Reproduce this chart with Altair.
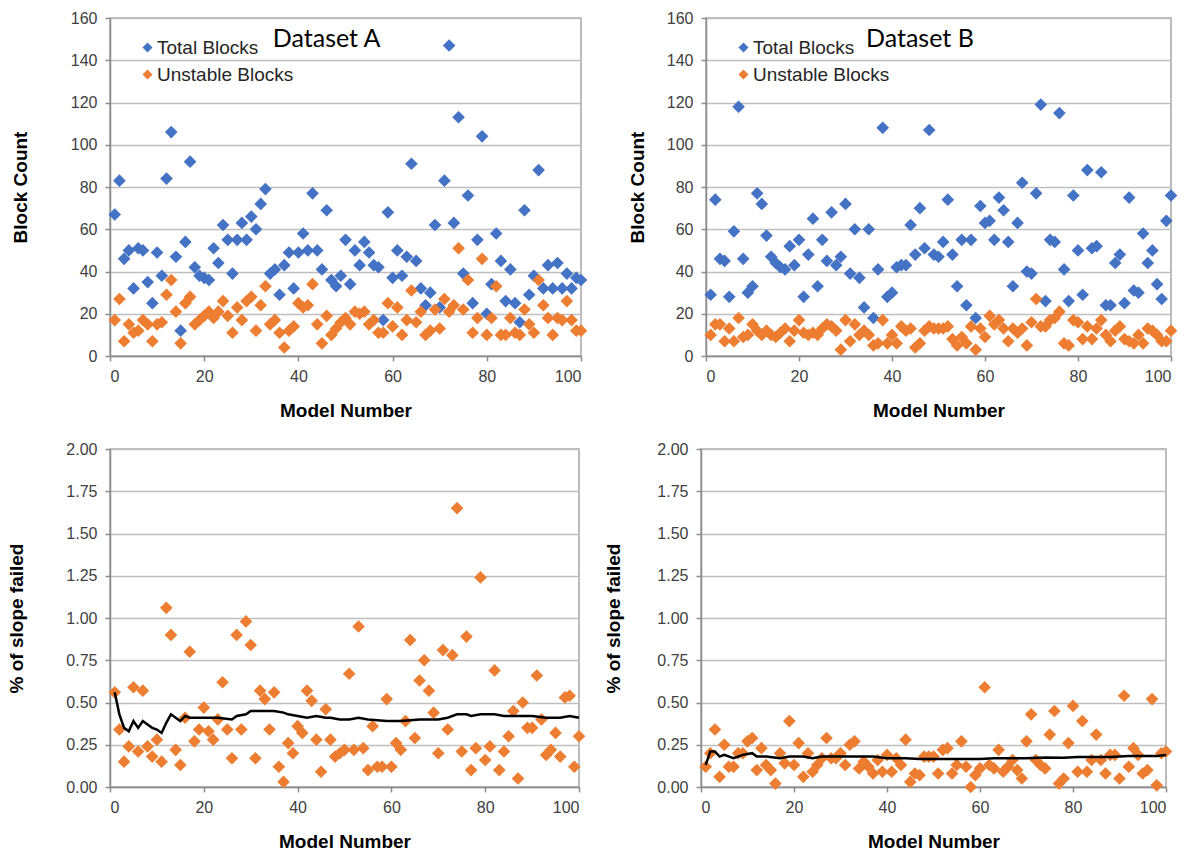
import altair as alt
import pandas as pd

models = list(range(1, 101))

total_a = [67, 83, 46, 50, 32, 51, 50, 35, 25, 49,
           38, 84, 106, 47, 12, 54, 92, 42, 38, 37,
           36, 51, 44, 62, 55, 39, 55, 63, 55, 66,
           60, 72, 79, 39, 41, 29, 43, 49, 32, 49,
           58, 50, 77, 50, 41, 69, 36, 33, 38, 55,
           34, 50, 43, 54, 49, 43, 42, 17, 68, 37,
           50, 38, 47, 91, 45, 32, 24, 30, 62, 23,
           83, 147, 63, 113, 39, 76, 25, 55, 104, 20,
           34, 58, 45, 26, 41, 25, 16, 69, 29, 38,
           88, 32, 43, 32, 44, 32, 39, 32, 37, 36]
unstable_a = [17, 27, 7, 15, 11, 12, 17, 15, 7, 15,
              16, 29, 36, 21, 6, 25, 28, 15, 17, 19,
              21, 18, 21, 26, 19, 11, 23, 17, 26, 28,
              12, 24, 33, 15, 17, 11, 4, 12, 14, 25,
              23, 24, 34, 15, 6, 19, 10, 13, 16, 18,
              15, 21, 20, 21, 15, 17, 11, 11, 25, 14,
              23, 10, 17, 31, 16, 21, 10, 12, 22, 13,
              27, 21, 24, 51, 22, 36, 11, 18, 46, 10,
              18, 33, 10, 10, 18, 11, 10, 22, 15, 11,
              36, 24, 18, 10, 18, 17, 26, 17, 12, 12]
total_b = [29, 74, 46, 45, 28, 59, 118, 46, 30, 33,
           77, 72, 57, 47, 44, 42, 41, 52, 43, 55,
           28, 48, 65, 33, 55, 45, 68, 43, 47, 72,
           39, 60, 37, 23, 60, 18, 41, 108, 28, 30,
           42, 43, 43, 62, 48, 70, 51, 107, 48, 47,
           54, 74, 48, 33, 55, 24, 55, 18, 71, 63,
           64, 55, 75, 69, 54, 33, 63, 82, 40, 39,
           77, 119, 26, 55, 54, 115, 41, 26, 76, 50,
           29, 88, 51, 52, 87, 24, 24, 44, 48, 25,
           75, 31, 30, 58, 44, 50, 34, 27, 64, 76]
unstable_b = [10, 15, 15, 7, 13, 7, 18, 9, 10, 15,
              12, 10, 12, 10, 9, 11, 13, 7, 12, 17,
              11, 10, 11, 10, 13, 15, 14, 12, 3, 17,
              7, 15, 10, 12, 10, 5, 6, 17, 6, 10,
              6, 14, 12, 13, 4, 6, 12, 14, 13, 13,
              13, 14, 8, 5, 9, 6, 14, 3, 13, 9,
              19, 15, 17, 13, 7, 13, 11, 13, 5, 16,
              27, 14, 14, 17, 18, 21, 6, 5, 17, 16,
              8, 14, 8, 13, 17, 10, 7, 12, 14, 8,
              7, 6, 10, 6, 13, 12, 10, 7, 7, 12]

pct_a = [0.56, 0.34, 0.15, 0.24, 0.59, 0.21, 0.57, 0.24, 0.18, 0.28,
         0.15, 1.06, 0.90, 0.22, 0.13, 0.41, 0.80, 0.27, 0.34, 0.47,
         0.33, 0.28, 0.40, 0.62, 0.34, 0.17, 0.90, 0.34, 0.98, 0.84,
         0.17, 0.57, 0.52, 0.34, 0.56, 0.12, 0.03, 0.26, 0.20, 0.36,
         0.32, 0.57, 0.51, 0.28, 0.09, 0.46, 0.28, 0.18, 0.20, 0.22,
         0.67, 0.22, 0.95, 0.23, 0.10, 0.36, 0.12, 0.12, 0.52, 0.12,
         0.26, 0.22, 0.39, 0.87, 0.29, 0.63, 0.75, 0.57, 0.44, 0.20,
         0.81, 0.34, 0.78, 1.65, 0.21, 0.89, 0.10, 0.23, 1.24, 0.16,
         0.24, 0.69, 0.10, 0.21, 0.30, 0.45, 0.05, 0.50, 0.35, 0.35,
         0.66, 0.40, 0.19, 0.22, 0.32, 0.18, 0.53, 0.54, 0.12, 0.30]
pct_b = [0.12, 0.20, 0.34, 0.06, 0.25, 0.12, 0.12, 0.20, 0.20, 0.27,
         0.29, 0.10, 0.23, 0.13, 0.10, 0.02, 0.20, 0.14, 0.39, 0.13,
         0.26, 0.06, 0.20, 0.09, 0.13, 0.17, 0.29, 0.17, 0.17, 0.20,
         0.13, 0.25, 0.27, 0.11, 0.15, 0.12, 0.08, 0.16, 0.09, 0.19,
         0.09, 0.17, 0.13, 0.28, 0.03, 0.08, 0.07, 0.18, 0.18, 0.18,
         0.08, 0.22, 0.23, 0.08, 0.13, 0.27, 0.12, 0.00, 0.07, 0.11,
         0.59, 0.13, 0.11, 0.22, 0.09, 0.12, 0.16, 0.10, 0.05, 0.27,
         0.43, 0.16, 0.13, 0.11, 0.31, 0.45, 0.02, 0.05, 0.26, 0.48,
         0.09, 0.39, 0.09, 0.16, 0.31, 0.16, 0.08, 0.19, 0.19, 0.05,
         0.54, 0.12, 0.23, 0.19, 0.08, 0.10, 0.52, 0.01, 0.20, 0.21]

# running-average line
line_a_x = [1, 2, 3, 4, 5, 6, 7, 8, 9, 10, 11, 12, 13, 14, 15, 16, 17, 20, 23, 26,
            27, 29, 30, 32, 35, 37, 38, 40, 42, 44, 46, 47, 49, 51, 53, 55, 59, 62,
            66, 70, 72, 74, 76, 77, 79, 82, 84, 87, 90, 93, 96, 98, 100]
line_a_y = [0.56, 0.43, 0.35, 0.33, 0.39, 0.35, 0.39, 0.37, 0.35, 0.34, 0.32, 0.38,
            0.43, 0.41, 0.39, 0.42, 0.41, 0.41, 0.41, 0.40, 0.42, 0.43, 0.45, 0.45,
            0.45, 0.44, 0.43, 0.42, 0.41, 0.42, 0.41, 0.41, 0.40, 0.40, 0.41, 0.40,
            0.39, 0.39, 0.40, 0.40, 0.41, 0.43, 0.43, 0.42, 0.43, 0.43, 0.42, 0.42,
            0.42, 0.41, 0.41, 0.42, 0.41]
line_b_x = [1, 2, 3, 4, 5, 7, 9, 11, 12, 14, 17, 19, 22, 24, 26, 30, 33, 37, 40, 44,
            47, 51, 56, 60, 63, 67, 70, 74, 78, 81, 85, 88, 92, 96, 98, 100]
line_b_y = [0.13, 0.21, 0.21, 0.18, 0.19, 0.17, 0.19, 0.20, 0.18, 0.18, 0.17, 0.18,
            0.18, 0.17, 0.18, 0.18, 0.18, 0.18, 0.17, 0.17, 0.165, 0.165, 0.165,
            0.165, 0.17, 0.17, 0.17, 0.175, 0.173, 0.177, 0.177, 0.177, 0.183,
            0.183, 0.183, 0.19]

series_names = ["Total Blocks", "Unstable Blocks"]
BLUE = "#4472C4"
ORANGE = "#ED7D31"
FONT = "Liberation Sans"
X_TICKS = [0, 20, 40, 60, 80, 100]


def x_enc():
    return alt.X("model:Q", scale=alt.Scale(domain=[0, 100], nice=False),
                 axis=alt.Axis(values=X_TICKS, title="Model Number", grid=False,
                               labelPadding=7, titlePadding=17, format="d"))


def top_panel(total, unstable, label, width, title_pad):
    df = pd.DataFrame({
        "model": models + models,
        "value": total + unstable,
        "series": [series_names[0]] * len(models) + [series_names[1]] * len(models),
    })
    pts = alt.Chart(df).mark_point(shape="diamond", filled=True, size=160, opacity=1).encode(
        x=x_enc(),
        y=alt.Y("value:Q", scale=alt.Scale(domain=[0, 160], nice=False),
                axis=alt.Axis(values=list(range(0, 161, 20)), title="Block Count",
                              labelPadding=8, titlePadding=title_pad)),
        color=alt.Color("series:N",
                        scale=alt.Scale(domain=series_names, range=[BLUE, ORANGE]),
                        legend=alt.Legend(orient="none", legendX=28, legendY=20, title=None,
                                          symbolType="diamond", symbolSize=100,
                                          labelFontSize=19, labelFont=FONT,
                                          labelColor="#262626", rowPadding=7,
                                          labelOffset=0, padding=0, symbolOpacity=1,
                                          symbolStrokeWidth=0)),
    )
    txt = alt.Chart(pd.DataFrame({"t": [label]})).mark_text(
        font="Lato", fontSize=25, color="black", align="center", baseline="middle"
    ).encode(text="t:N", x=alt.value(width * 0.46), y=alt.value(21))
    return alt.layer(pts, txt).properties(width=width, height=338)


def bottom_panel(pct, lx, ly, width, title_pad):
    df = pd.DataFrame({"model": models, "pct": pct})
    ldf = pd.DataFrame({"model": lx, "pct": ly})
    y = alt.Y("pct:Q", scale=alt.Scale(domain=[0, 2], nice=False),
              axis=alt.Axis(values=[i * 0.25 for i in range(9)], format=".2f",
                            title="% of slope failed", labelPadding=8,
                            titlePadding=title_pad))
    pts = alt.Chart(df).mark_point(shape="diamond", filled=True, size=160, opacity=1,
                                   color=ORANGE).encode(x=x_enc(), y=y)
    line = alt.Chart(ldf).mark_line(color="black", strokeWidth=2.5).encode(x=x_enc(), y=y)
    return alt.layer(pts, line).properties(width=width, height=338)


tl = top_panel(total_a, unstable_a, "Dataset A", 471, 40)
tr = top_panel(total_b, unstable_b, "Dataset B", 465, 19)
bl = bottom_panel(pct_a, line_a_x, line_a_y, 469, 39)
br = bottom_panel(pct_b, line_b_x, line_b_y, 465, 33)

top = alt.hconcat(tl, tr, spacing=38).resolve_scale(color="independent").resolve_legend(color="independent")
bottom = alt.hconcat(bl, br, spacing=17)

chart = alt.vconcat(top, bottom, spacing=19).resolve_scale(
    color="independent").resolve_legend(color="independent").properties(
    padding={"left": 7, "top": 9, "right": 5, "bottom": 2},
    background="white",
).configure_axis(
    labelFont=FONT, labelFontSize=16, labelColor="#404040",
    titleFont=FONT, titleFontSize=19, titleFontWeight="bold", titleColor="black",
    domainColor="#8C8C8C", domainWidth=1.5, tickColor="#8C8C8C", tickWidth=1.5,
    tickSize=5, gridColor="#BFBFBF", gridWidth=1.3,
).configure_view(stroke="#A6A6A6", strokeWidth=1.5)

chart.save("out.html", embed_options={"renderer": "svg", "actions": False})
